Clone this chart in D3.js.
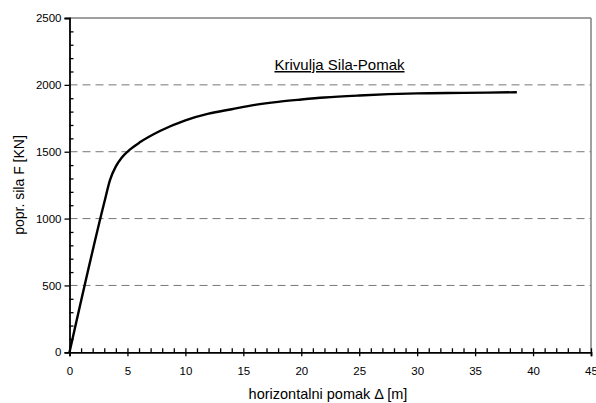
<!DOCTYPE html>
<html>
<head>
<meta charset="utf-8">
<script src="https://cdnjs.cloudflare.com/ajax/libs/d3/7.8.5/d3.min.js"></script>
<style>
body{margin:0;background:#fff;}
text{font-family:"Liberation Sans",Arial,sans-serif;fill:#000;}
</style>
</head>
<body>
<div id="chart"></div>
<script>
// pomak [m] i sila [KN]
var pomak = [0, 3.0, 3.5, 4.0, 4.5, 5.2, 6.1, 7.8, 10.0, 12.0, 14.0, 16.0, 18.0, 20.0, 22.0, 25.0, 30.0, 34.0, 38.6];
var sila  = [0, 1120, 1290, 1390, 1455, 1515, 1572, 1655, 1735, 1785, 1818, 1850, 1873, 1890, 1905, 1920, 1936, 1940, 1945];
var xTicks = [0, 5, 10, 15, 20, 25, 30, 35, 40, 45];
var yTicks = [0, 500, 1000, 1500, 2000, 2500];
var gridVals = [500, 1000, 1500, 2000];
var title = "Krivulja Sila-Pomak";

var w = 596, h = 403;
var svg = d3.select("#chart").append("svg").attr("width", w).attr("height", h);

var x = d3.scaleLinear().domain([0, 45]).range([69.5, 591]);
var y = d3.scaleLinear().domain([0, 2500]).range([352.3, 18]);

// okvir
svg.append("line").attr("x1", x(0)).attr("x2", x(45)).attr("y1", y(2500)).attr("y2", y(2500))
   .attr("stroke", "#404040").attr("stroke-width", 1.2);
svg.append("line").attr("x1", x(45)).attr("x2", x(45)).attr("y1", y(2500)).attr("y2", y(0))
   .attr("stroke", "#808080").attr("stroke-width", 1.5);

// isprekidane linije
svg.selectAll("line.grid").data(gridVals).enter().append("line").attr("class", "grid")
   .attr("x1", x(0)).attr("x2", x(45))
   .attr("y1", function(d){ return y(d); }).attr("y2", function(d){ return y(d); })
   .attr("stroke", "#777").attr("stroke-width", 1).attr("stroke-dasharray", "8,5");

// y os
svg.append("g").attr("transform", "translate(" + x(0) + ",0)")
   .call(d3.axisLeft(y).tickValues(yTicks).tickSize(5).tickPadding(3).tickFormat(d3.format("d")));
svg.append("g").attr("transform", "translate(" + x(0) + ",0)")
   .call(d3.axisRight(y).tickValues(d3.range(0, 2501, 100).filter(function(d){ return d % 500; }))
   .tickSize(4).tickFormat(""))
   .call(function(g){ g.select(".domain").remove(); });

// x os
svg.append("g").attr("transform", "translate(0," + y(0) + ")")
   .call(d3.axisBottom(x).tickValues(xTicks).tickSize(4).tickPadding(11));
svg.append("g").attr("transform", "translate(0," + y(0) + ")")
   .call(d3.axisTop(x).tickValues(d3.range(0, 46, 1)).tickSize(4).tickFormat(""))
   .call(function(g){ g.select(".domain").remove(); });

svg.selectAll(".domain").attr("stroke", "#000").attr("stroke-width", 1.8);
svg.selectAll(".tick line").attr("stroke", "#000").attr("stroke-width", 1.3);
svg.selectAll(".tick text").style("font-size", "11.5px");

// krivulja
var pts = pomak.map(function(d, i){ return [d, sila[i]]; });
svg.append("path").datum(pts)
   .attr("fill", "none").attr("stroke", "#000").attr("stroke-width", 2.4)
   .attr("stroke-linejoin", "round")
   .attr("d", d3.line().x(function(d){ return x(d[0]); }).y(function(d){ return y(d[1]); }).curve(d3.curveMonotoneX));

// naslov
svg.append("text").attr("x", 339.5).attr("y", 70).attr("text-anchor", "middle")
   .style("font-size", "15px").style("text-decoration", "underline").text(title);

// nazivi osi
svg.append("text").attr("x", 328).attr("y", 399).attr("text-anchor", "middle")
   .style("font-size", "14.5px").text("horizontalni pomak \u0394 [m]");
svg.append("text").attr("transform", "translate(24,185) rotate(-90)").attr("text-anchor", "middle")
   .style("font-size", "14px").text("popr. sila F [KN]");
</script>
</body>
</html>
